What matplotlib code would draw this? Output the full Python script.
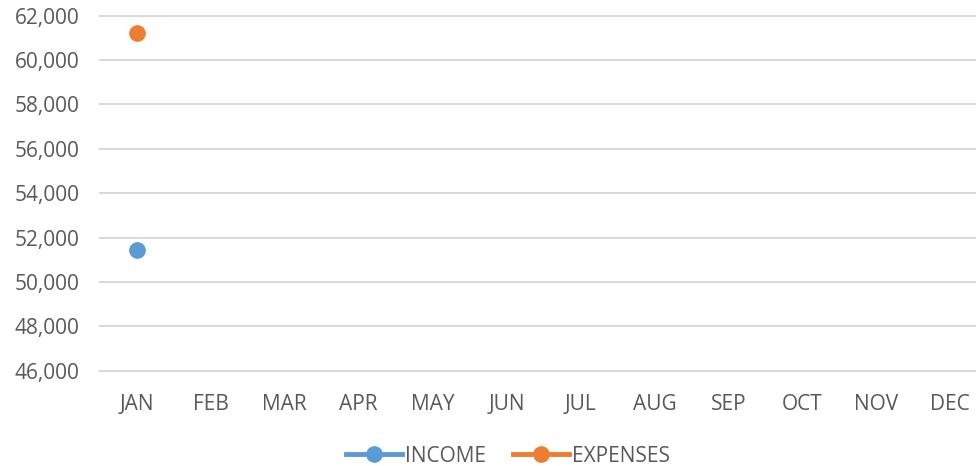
import numpy as np
import matplotlib
matplotlib.use("Agg")
import matplotlib.pyplot as plt

months = ["JAN", "FEB", "MAR", "APR", "MAY", "JUN", "JUL", "AUG", "SEP", "OCT", "NOV", "DEC"]
income = [51450] + [np.nan] * 11
expenses = [61200] + [np.nan] * 11
yticks = [46000, 48000, 50000, 52000, 54000, 56000, 58000, 60000, 62000]

plt.rcParams['font.family'] = ['Open Sans', 'DejaVu Sans']
txt = '#595959'

fig = plt.figure(figsize=(9.76, 4.66), dpi=100)
W, H = 976, 466
left, right = 100, 987
bottom_px, top_px = 370.7, 15.7
ax = fig.add_axes([left / W, (H - bottom_px) / H, (right - left) / W, (bottom_px - top_px) / H])

x = np.arange(len(months))
ax.plot(x, income, color='#5B9BD5', marker='o', markersize=11, linewidth=3.5, label='INCOME')
ax.plot(x, expenses, color='#ED7D31', marker='o', markersize=11, linewidth=3.5, label='EXPENSES')

ax.set_xlim(-0.5, len(months) - 0.5)
ax.set_ylim(46000, 62000)
ax.set_yticks(yticks)
ax.set_yticklabels([f"{v:,}" for v in yticks])
ax.set_xticks(x)
ax.set_xticklabels(months)
ax.tick_params(axis='both', length=0, colors=txt, labelsize=15)
ax.tick_params(axis='y', pad=15)
ax.tick_params(axis='x', pad=17)
for s in ax.spines.values():
    s.set_visible(False)
ax.grid(axis='y', color='#D9D9D9', linewidth=1.5)
for gl in ax.get_ygridlines():
    gl.set_clip_on(False)
ax.set_axisbelow(True)

leg = fig.legend(loc='center', bbox_to_anchor=(508 / W, (H - 456) / H), ncol=2, frameon=False,
                 fontsize=15, handlelength=2.7, columnspacing=1.3, handletextpad=0.15, labelcolor=txt)

fig.savefig('out.png', dpi=100)
